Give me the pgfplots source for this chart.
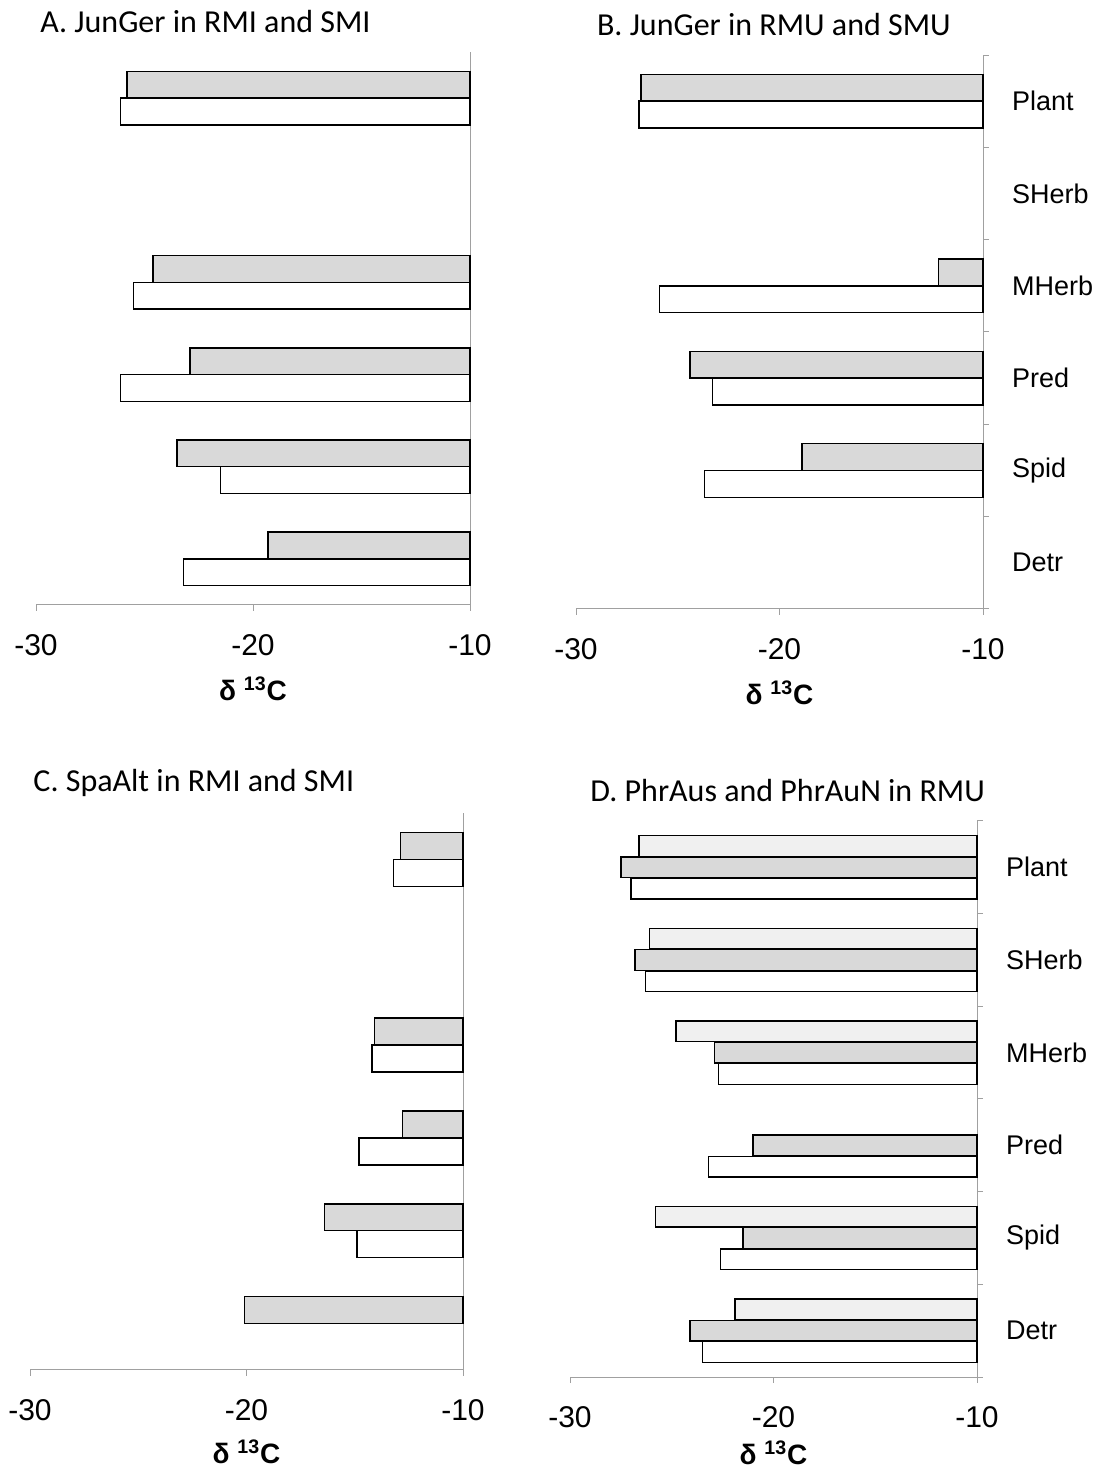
\documentclass[border=0pt]{standalone}
\usepackage{fontspec}
\setmainfont{Liberation Sans}
\newfontfamily\titlefont{Carlito}
\usepackage{pgfplots}
\usepackage{pgfplotstable}
\pgfplotsset{compat=1.18}
\usetikzlibrary{patterns}
\definecolor{barGray}{HTML}{D9D9D9}
\definecolor{barLight}{HTML}{F0F0F0}
\definecolor{axGray}{HTML}{A0A0A0}

% cat: Plant=5, SHerb=4, MHerb=3, Pred=2, Spid=1, Detr=0
\pgfplotstableread{
cat gray white
5 -25.8 -26.1
4 nan nan
3 -24.6 -25.5
2 -22.9 -26.1
1 -23.5 -21.5
0 -19.3 -23.2
}\tabA
\pgfplotstableread{
cat gray white
5 -26.8 -26.9
4 nan nan
3 -12.2 -25.9
2 -24.4 -23.3
1 -18.9 -23.7
0 nan nan
}\tabB
\pgfplotstableread{
cat gray white
5 -12.9 -13.2
4 nan nan
3 -14.1 -14.2
2 -12.8 -14.8
1 -16.4 -14.9
0 -20.1 nan
}\tabC
\pgfplotstableread{
cat light gray white
5 -26.6 -27.5 -27.0
4 -26.1 -26.8 -26.3
3 -24.8 -22.9 -22.7
2 nan -21.0 -23.2
1 -25.8 -21.5 -22.6
0 -21.9 -24.1 -23.5
}\tabD

\pgfplotsset{
  panel/.style={
    scale only axis,
    xmin=-20, xmax=0, ymin=-0.5, ymax=5.5,
    axis x line*=bottom, axis y line*=right,
    axis line style={axGray, line width=0.5pt},
    xtick={-20,-10,0}, xticklabels={-30,-20,-10},
    xticklabel style={font=\fontsize{15}{16}\selectfont, anchor=center, yshift=-17pt},
    major x tick style={axGray, line width=0.5pt},
    tick align=outside,
    major tick length=3pt,
    minor tick length=3pt,
    minor ytick={-0.5,0.5,...,5.5},
    minor y tick style={axGray, line width=0.5pt},
    xlabel={\textbf{δ \textsuperscript{13}C}},
    xlabel style={font=\fontsize{14}{15}\selectfont, at={(axis description cs:0.5,0)}, anchor=center, yshift=-42pt},
    title style={font=\titlefont\fontsize{16}{17}\selectfont, at={(axis description cs:0,1)}, anchor=west, yshift=9pt},
    clip=false,
  },
  nolabels/.style={ytick=\empty},
  catlabels/.style={
    ytick={0,1,2,3,4,5},
    yticklabels={Detr,Spid,Pred,MHerb,SHerb,Plant},
    major y tick style={draw=none},
    yticklabel style={font=\fontsize{13.5}{15}\selectfont, anchor=west, xshift=8pt},
  },
  gbar/.style={xbar, bar shift=0pt, bar width=#1, fill=barGray, draw=black, line width=0.7pt},
  wbar/.style={xbar, bar shift=0pt, bar width=#1, fill=white, draw=black, line width=0.7pt},
  lbar/.style={xbar, bar shift=0pt, bar width=#1, fill=barLight, draw=black, line width=0.7pt},
}

\begin{document}
\begin{tikzpicture}
\path[use as bounding box] (0,0) rectangle (548.5pt,736.5pt);

% Panel A
\begin{axis}[panel, nolabels, at={(18pt,434pt)}, anchor=south west,
  width=217pt, height=276.5pt,
  title={A. JunGer in RMI and SMI}, title style={xshift=-1.3pt}]
\addplot[gbar=0.29] table[x expr=\thisrow{gray}+10, y expr=\thisrow{cat}+0.145] {\tabA};
\addplot[wbar=0.29] table[x expr=\thisrow{white}+10, y expr=\thisrow{cat}-0.145] {\tabA};
\end{axis}

% Panel B
\begin{axis}[panel, catlabels, at={(288pt,432pt)}, anchor=south west,
  width=203.5pt, height=277pt,
  title={B. JunGer in RMU and SMU}, title style={xshift=7pt}]
\addplot[gbar=0.29] table[x expr=\thisrow{gray}+10, y expr=\thisrow{cat}+0.145] {\tabB};
\addplot[wbar=0.29] table[x expr=\thisrow{white}+10, y expr=\thisrow{cat}-0.145] {\tabB};
\end{axis}

% Panel C
\begin{axis}[panel, nolabels, at={(15pt,51.5pt)}, anchor=south west,
  width=216.5pt, height=278.5pt,
  title={C. SpaAlt in RMI and SMI}, title style={xshift=-1.8pt},
  xlabel style={yshift=1pt}]
\addplot[gbar=0.29] table[x expr=\thisrow{gray}+10, y expr=\thisrow{cat}+0.145] {\tabC};
\addplot[wbar=0.29] table[x expr=\thisrow{white}+10, y expr=\thisrow{cat}-0.145] {\tabC};
\end{axis}

% Panel D
\begin{axis}[panel, catlabels, at={(285pt,48pt)}, anchor=south west,
  width=203.5pt, height=278pt,
  title={D. PhrAus and PhrAuN in RMU}, title style={xshift=6.7pt},
  xlabel style={yshift=4pt}]
\addplot[lbar=0.225] table[x expr=\thisrow{light}+10, y expr=\thisrow{cat}+0.23] {\tabD};
\addplot[gbar=0.225] table[x expr=\thisrow{gray}+10, y expr=\thisrow{cat}] {\tabD};
\addplot[wbar=0.225] table[x expr=\thisrow{white}+10, y expr=\thisrow{cat}-0.23] {\tabD};
\end{axis}
\end{tikzpicture}
\end{document}
